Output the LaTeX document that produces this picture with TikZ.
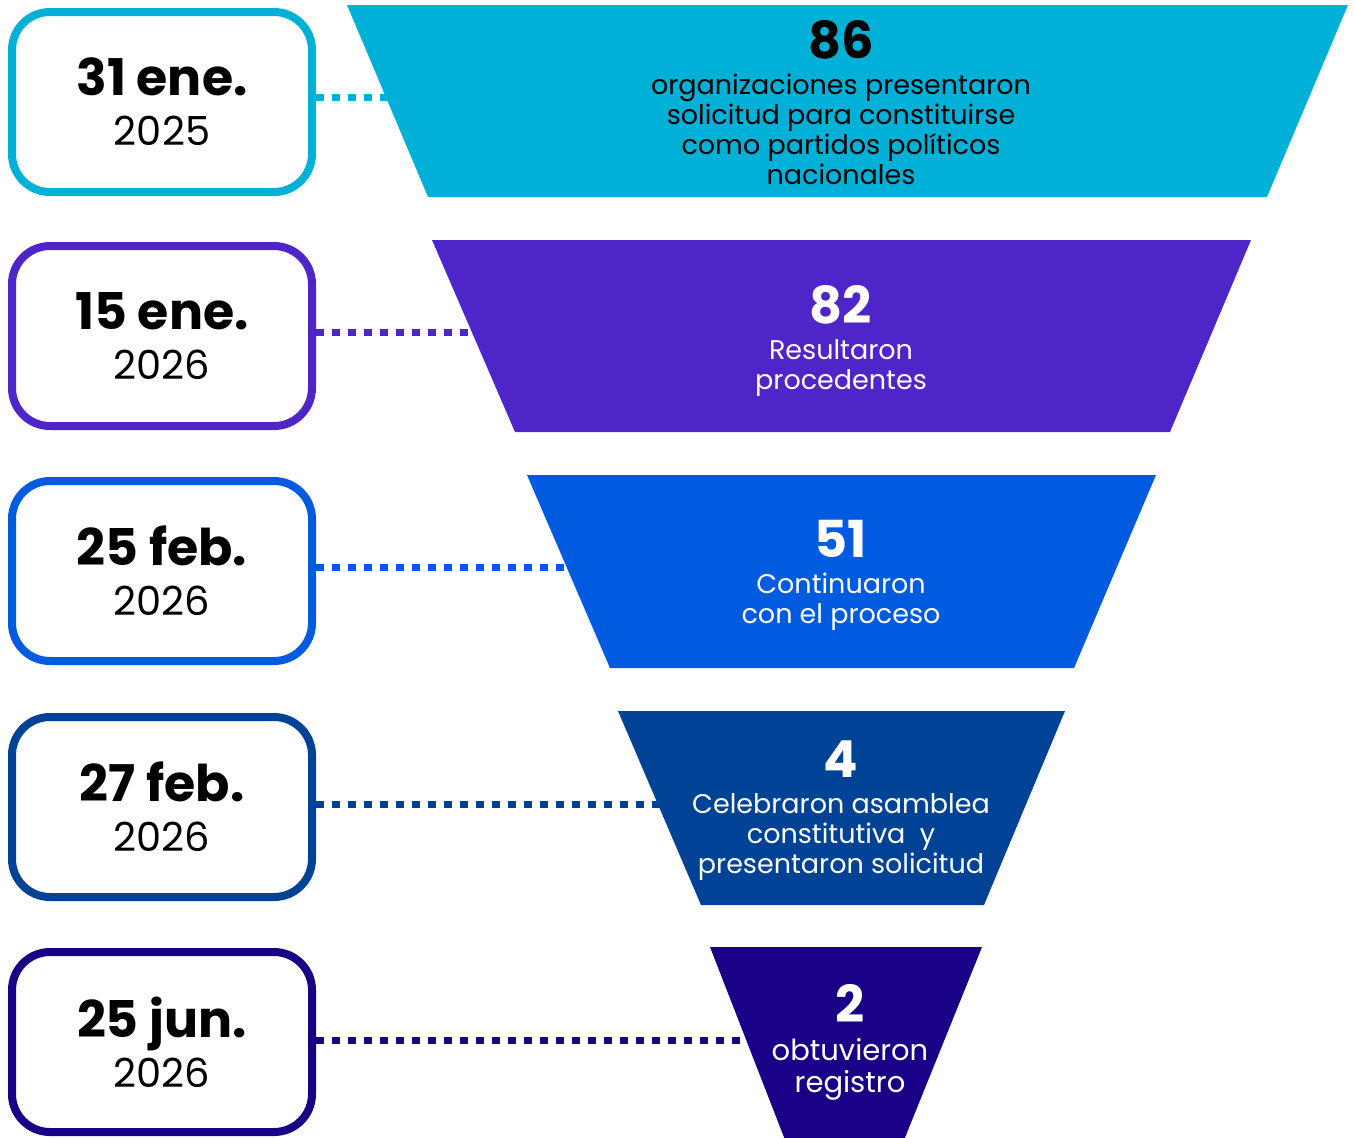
\documentclass[tikz,border=0pt]{standalone}
\usepackage{fontspec}
\setmainfont{Poppins}
\usetikzlibrary{
    calc,
    positioning,
}
\definecolor{etapaA}{HTML}{00B0D6}
\definecolor{etapaB}{HTML}{4E25C8}
\definecolor{etapaC}{HTML}{005BE0}
\definecolor{etapaD}{HTML}{004396}
\definecolor{etapaE}{HTML}{1A0087}
\tikzstyle{fecha}=[draw,rectangle,fill=white,text=black,line width=4pt,rounded corners=19pt,minimum width=150pt,minimum height=90pt,inner sep=0pt,align=center,font=\fontsize{20}{25}\selectfont]
\tikzstyle{enlace}=[line width=3.5pt,dash pattern=on 4pt off 4pt]
\tikzstyle{cifras}=[align=center,inner sep=0pt,text=white,font=\fontsize{13.5}{15}\selectfont]
\newcommand{\dia}[1]{{\fontsize{25.3}{25}\selectfont\bfseries #1}}
\newcommand{\total}[1]{{\fontsize{25.5}{15}\selectfont\bfseries #1}}

\begin{document}
\begin{tikzpicture}[x=0.5pt,y=-0.5pt]
                \useasboundingbox (0,0) rectangle (1354,1137);
                % puntos sobre el borde izquierdo de cada etapa
                \coordinate (e1) at (390,97);
                \coordinate (e2) at (475,332);
                \coordinate (e3) at (570,567);
                \coordinate (e4) at (661,804);
                \coordinate (e5) at (753,1040);
                % fechas
                \node[fecha,draw=etapaA] (d1) at (162,102) {\dia{31 ene.}\\ 2025};
                \node[fecha,draw=etapaB] (d2) at (162,336) {\dia{15 ene.}\\ 2026};
                \node[fecha,draw=etapaC] (d3) at (162,571) {\dia{25 feb.}\\ 2026};
                \node[fecha,draw=etapaD] (d4) at (162,807) {\dia{27 feb.}\\ 2026};
                \node[fecha,draw=etapaE] (d5) at (162,1042) {\dia{25 jun.}\\ 2026};
                % lineas punteadas
                \draw[enlace,etapaA] (d1.east |- e1) -- (e1);
                \draw[enlace,etapaB] (d2.east |- e2) -- (e2);
                \draw[enlace,etapaC] (d3.east |- e3) -- (e3);
                \draw[enlace,etapaD] (d4.east |- e4) -- (e4);
                \draw[enlace,etapaE] (d5.east |- e5) -- (e5);
                % embudo
                \fill[etapaA] (347,5) -- (1348,5) -- (1267,197) -- (428,197) -- cycle;
                \fill[etapaB] (432,240) -- (1251,240) -- (1170,432) -- (515,432) -- cycle;
                \fill[etapaC] (527,475) -- (1156,475) -- (1074,668) -- (610,668) -- cycle;
                \fill[etapaD] (618,711) -- (1065,711) -- (984,905) -- (701,905) -- cycle;
                \fill[etapaE] (710,947) -- (982,947) -- (902,1145) -- (787,1145) -- cycle;
                \node[cifras,text=black] (n1) at (841,103) {\total{86}\\[3pt] organizaciones presentaron\\ solicitud para constituirse\\ como partidos políticos\\ nacionales};
                \node[cifras] (n2) at (841,341) {\total{82}\\[3pt] Resultaron\\ procedentes};
                \node[cifras] (n3) at (841,575) {\total{51}\\[3pt] Continuaron\\ con el proceso};
                \node[cifras] (n4) at (841,811) {\total{4}\\[3pt] Celebraron asamblea\\ constitutiva~ y\\ presentaron solicitud};
                \node[cifras,font=\fontsize{14.5}{16}\selectfont] (n5) at (850,1042) {\total{2}\\[3pt] obtuvieron\\ registro};
            \end{tikzpicture}
\end{document}
